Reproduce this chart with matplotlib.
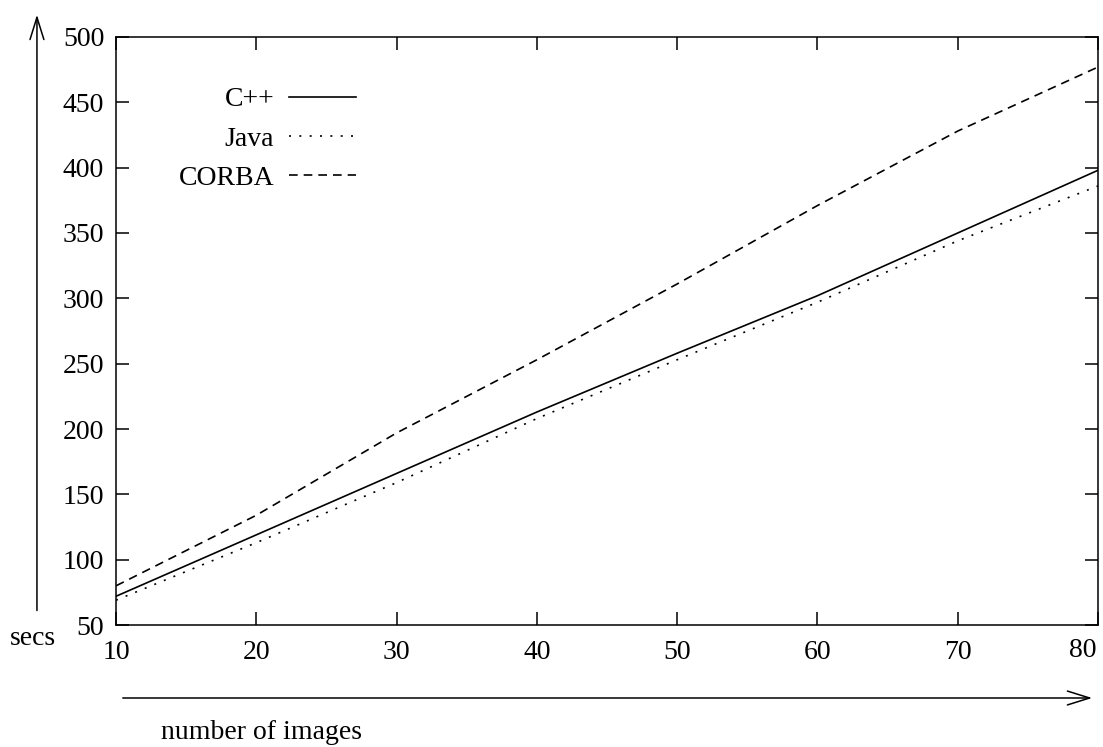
# timing.py
# run time in seconds against the number of images, for the C++, Java and CORBA versions
import matplotlib
matplotlib.use("Agg")
import matplotlib.pyplot as plt
import matplotlib.transforms as mtransforms
from matplotlib.patches import FancyArrowPatch

images = [10, 20, 30, 40, 50, 60, 70, 80]
cpp_secs = [72, 119, 166, 213, 258, 302, 350, 398]
java_secs = [69, 113, 159, 208, 253, 297, 344, 386]
corba_secs = [80, 134, 197, 253, 311, 371, 428, 477]

x_ticks = [10, 20, 30, 40, 50, 60, 70, 80]
y_ticks = [50, 100, 150, 200, 250, 300, 350, 400, 450, 500]

fs = 20
plt.rcParams["font.family"] = ["Liberation Serif", "DejaVu Serif"]
plt.rcParams["font.size"] = fs

fig = plt.figure(figsize=(11.03, 7.47), dpi=100)
ax = fig.add_axes([0.1052, 0.1633, 0.8903, 0.7872])

lw = 1.2
ax.plot(images, cpp_secs, color="black", lw=lw, label="C++")
ax.plot(images, java_secs, color="black", lw=lw, linestyle=(0, (1.2, 5.0)), label="Java")
ax.plot(images, corba_secs, color="black", lw=lw, linestyle=(0, (5.2, 3.6)), label="CORBA")

ax.set_xlim(10, 80)
ax.set_ylim(50, 500)
ax.set_xticks(x_ticks)
ax.set_yticks(y_ticks)
ax.tick_params(direction="in", length=9.5, width=1.1, top=True, right=True,
               labelsize=fs, color="black")
ax.tick_params(axis="x", pad=10.5)
ax.tick_params(axis="y", pad=8.5)
for side in ax.spines.values():
    side.set_linewidth(1.1)

# the last x label sits a little left of its tick, as in the original
shift = mtransforms.ScaledTranslation(-15 / 100, 2 / 100, fig.dpi_scale_trans)
last = ax.get_xticklabels()[-1]
last.set_transform(last.get_transform() + shift)

ax.legend(loc="upper right", bbox_to_anchor=(0.2444, 0.915), frameon=False,
          markerfirst=False, handlelength=2.4, handletextpad=0.54,
          labelspacing=0.5, borderpad=0, borderaxespad=0, fontsize=fs)

# axis arrows and captions outside the box
fig.add_artist(FancyArrowPatch((0.0335, 0.179), (0.0335, 0.984),
                               transform=fig.transFigure,
                               arrowstyle="->,head_length=1.6,head_width=0.5",
                               mutation_scale=10, lw=1.1, color="black"))
fig.add_artist(FancyArrowPatch((0.1088, 0.0656), (0.9927, 0.0656),
                               transform=fig.transFigure,
                               arrowstyle="->,head_length=1.6,head_width=0.5",
                               mutation_scale=10, lw=1.1, color="black"))
fig.text(0.009, 0.145, "secs", fontsize=fs, va="center", ha="left")
fig.text(0.146, 0.019, "number of images", fontsize=fs, va="center", ha="left")

fig.savefig("out.png", dpi=100)
